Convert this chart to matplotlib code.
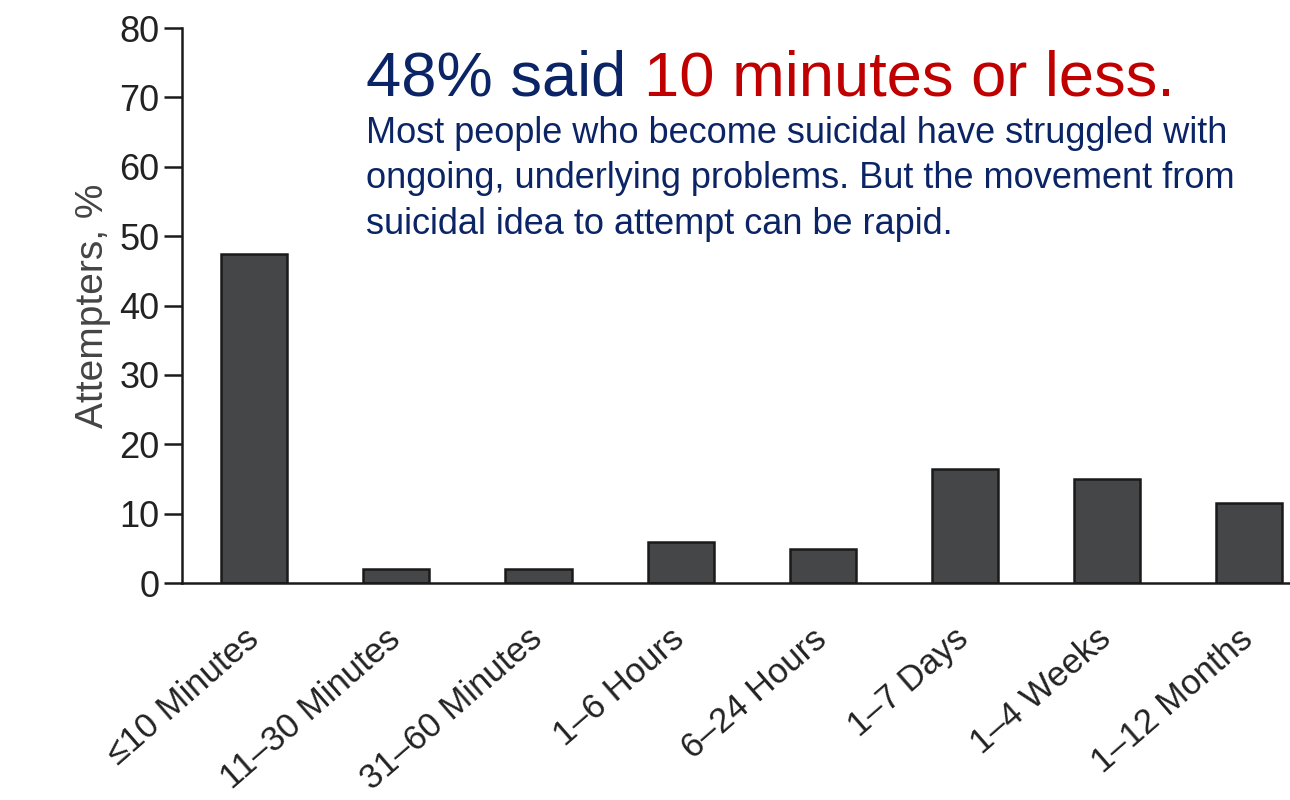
import matplotlib.pyplot as plt
from matplotlib.transforms import ScaledTranslation

categories = ["\u226410 Minutes", "11\u201330 Minutes", "31\u201360 Minutes", "1\u20136 Hours",
              "6\u201324 Hours", "1\u20137 Days", "1\u20134 Weeks", "1\u201312 Months"]
attempters = [47.5, 2, 2, 6, 5, 16.5, 15, 11.5]
y_ticks = [0, 10, 20, 30, 40, 50, 60, 70, 80]

navy = "#0b2466"
red = "#c00000"

plt.rcParams["font.family"] = ["Liberation Sans", "DejaVu Sans"]

fig = plt.figure(figsize=(12.9, 8), dpi=100)
ax = fig.add_axes([0.141, 0.271, 0.859, 0.694])

x = list(range(len(categories)))
ax.bar(x, attempters, width=0.465, color="#454647", edgecolor="#1a1a1a", linewidth=1.8)

ax.set_xlim(-0.51, 7.29)
ax.set_ylim(0, 80)
ax.set_yticks(y_ticks)
ax.tick_params(axis="y", length=13, width=1.8, color="#1a1a1a", labelsize=26,
               labelcolor="#222222", pad=3)
ax.set_xticks(x)
ax.set_xticklabels(categories, rotation=41, ha="right", va="top", rotation_mode="anchor",
                   fontsize=25, color="#222222")
ax.tick_params(axis="x", length=0, pad=28)
# nudge the slanted labels a little to the left
shift = ScaledTranslation(-8 / 72, 0, fig.dpi_scale_trans)
for lab in ax.get_xticklabels():
    lab.set_transform(lab.get_transform() + shift)

for side in ["top", "right"]:
    ax.spines[side].set_visible(False)
for side in ["left", "bottom"]:
    ax.spines[side].set_linewidth(1.8)
    ax.spines[side].set_color("#1a1a1a")

ax.set_ylabel("Attempters, %", fontsize=28, color="#444444", labelpad=6)

# headline
t1 = fig.text(0.284, 0.881, "48% said ", fontsize=45.5, color=navy, va="baseline")
fig.canvas.draw()
bb = t1.get_window_extent()
fig.text(bb.x1 / fig.bbox.width, 0.881, "10 minutes or less.", fontsize=45.5,
         color=red, va="baseline")

fig.text(0.284, 0.855,
         "Most people who become suicidal have struggled with\n"
         "ongoing, underlying problems. But the movement from\n"
         "suicidal idea to attempt can be rapid.",
         fontsize=26, color=navy, linespacing=1.38, va="top")

fig.savefig("out.png", dpi=100)
